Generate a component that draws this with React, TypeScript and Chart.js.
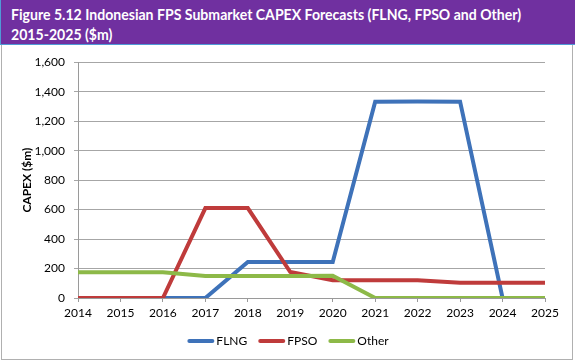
import React, { useEffect, useRef } from "react";
import { Chart, registerables } from "chart.js";

Chart.register(...registerables);

const years = ["2014", "2015", "2016", "2017", "2018", "2019", "2020", "2021", "2022", "2023", "2024", "2025"];
const flng = [0, 0, 0, 0, 245, 245, 245, 1332, 1334, 1332, 0, 0];
const fpso = [0, 0, 0, 610, 610, 176, 120, 120, 120, 103, 103, 103];
const other = [174, 174, 174, 150, 150, 150, 151, 0, 0, 0, 0, 0];
const seriesNames = ["FLNG", "FPSO", "Other"];
const seriesColors = ["#3E72B9", "#BF3B3B", "#8DB948"];
const titleLines = ["Figure 5.12 Indonesian FPS Submarket CAPEX Forecasts (FLNG, FPSO and Other)", "2015-2025 ($m)"];
const yTitle = "CAPEX ($m)";

const FONT = "Lato, 'Liberation Sans', sans-serif";

const customLegend = {
  id: "customLegend",
  afterDraw(chart: any) {
    const ctx = chart.ctx;
    ctx.save();
    ctx.font = `12px ${FONT}`;
    const lineW = 27;
    const gap = 2;
    const spacing = 11;
    const items = chart.data.datasets.map((d: any) => ({
      label: d.label,
      color: d.borderColor,
      w: lineW + gap + ctx.measureText(d.label).width,
    }));
    const total = items.reduce((s: number, it: any) => s + it.w, 0) + spacing * (items.length - 1);
    let x = 288 - total / 2;
    const y = 295;
    for (const it of items) {
      ctx.strokeStyle = it.color;
      ctx.lineWidth = 4;
      ctx.lineCap = "round";
      ctx.beginPath();
      ctx.moveTo(x + 2, y);
      ctx.lineTo(x + lineW - 2, y);
      ctx.stroke();
      ctx.fillStyle = "#000";
      ctx.textBaseline = "middle";
      ctx.textAlign = "left";
      ctx.fillText(it.label, x + lineW + gap, y);
      x += it.w + spacing;
    }
    ctx.restore();
  },
};

export default function App() {
  const ref = useRef<HTMLCanvasElement | null>(null);
  useEffect(() => {
    if (!ref.current) return;
    const datasets = [flng, fpso, other].map((data, i) => ({
      label: seriesNames[i],
      data,
      borderColor: seriesColors[i],
      backgroundColor: seriesColors[i],
      borderWidth: 4,
      pointRadius: 0,
      tension: 0,
      order: 3 - i,
    }));
    const chart = new Chart(ref.current, {
      type: "line",
      data: { labels: years, datasets },
      options: {
        animation: false,
        responsive: false,
        maintainAspectRatio: false,
        layout: { padding: { left: 0, right: 30, top: 13, bottom: 31 } },
        plugins: { legend: { display: false }, tooltip: { enabled: false } },
        scales: {
          x: {
            type: "category",
            offset: false,
            grid: { display: true, drawOnChartArea: false, drawTicks: true, tickLength: 4, color: "#9a9a9a" },
            border: { display: true, color: "#9a9a9a" },
            ticks: { font: { family: FONT, size: 12 }, color: "#000", padding: 4, maxRotation: 0, autoSkip: false },
            afterFit: (s: any) => { s.height = 30; },
          },
          y: {
            min: 0,
            max: 1600,
            ticks: {
              stepSize: 200,
              font: { family: FONT, size: 12 },
              color: "#000",
              padding: 9,
              callback: (v: any) => Number(v).toLocaleString("en-US"),
            },
            grid: { color: "#a6a6a6", tickLength: 4, drawTicks: true },
            border: { display: true, color: "#9a9a9a" },
            title: { display: true, text: yTitle, font: { family: FONT, size: 12, weight: "bold" }, color: "#000", padding: { top: 20, bottom: 0 } },
            afterFit: (s: any) => { s.width = 78; },
          },
        },
      },
      plugins: [customLegend],
    });
    return () => chart.destroy();
  }, []);

  return (
    <div style={{ position: "absolute", left: 0, top: 0, width: 575, height: 362, background: "#fff", overflow: "hidden" }}>
      <div
        style={{
          position: "absolute",
          left: 0,
          top: 0,
          width: 575,
          height: 45,
          background: "#7030A0",
          borderLeft: "1px solid #4F9AD6",
          borderBottom: "1px solid #4F9AD6",
          boxSizing: "border-box",
          color: "#fff",
          fontFamily: FONT,
          fontWeight: "bold",
          fontSize: 16,
          lineHeight: "20px",
          paddingTop: 4,
          paddingLeft: 10,
          whiteSpace: "nowrap",
        }}
      >
        {titleLines.map((t, i) => (
          <div key={i} style={{ transform: "scaleX(0.88)", transformOrigin: "left" }}>{t}</div>
        ))}
      </div>
      <div
        style={{
          position: "absolute",
          left: 1,
          top: 45,
          width: 572,
          height: 315,
          border: "1px solid #b0b0b0",
          borderTop: "none",
          boxSizing: "border-box",
        }}
      />
      <canvas ref={ref} width={575} height={313} style={{ position: "absolute", left: 0, top: 46, width: 575, height: 313 }} />
    </div>
  );
}
